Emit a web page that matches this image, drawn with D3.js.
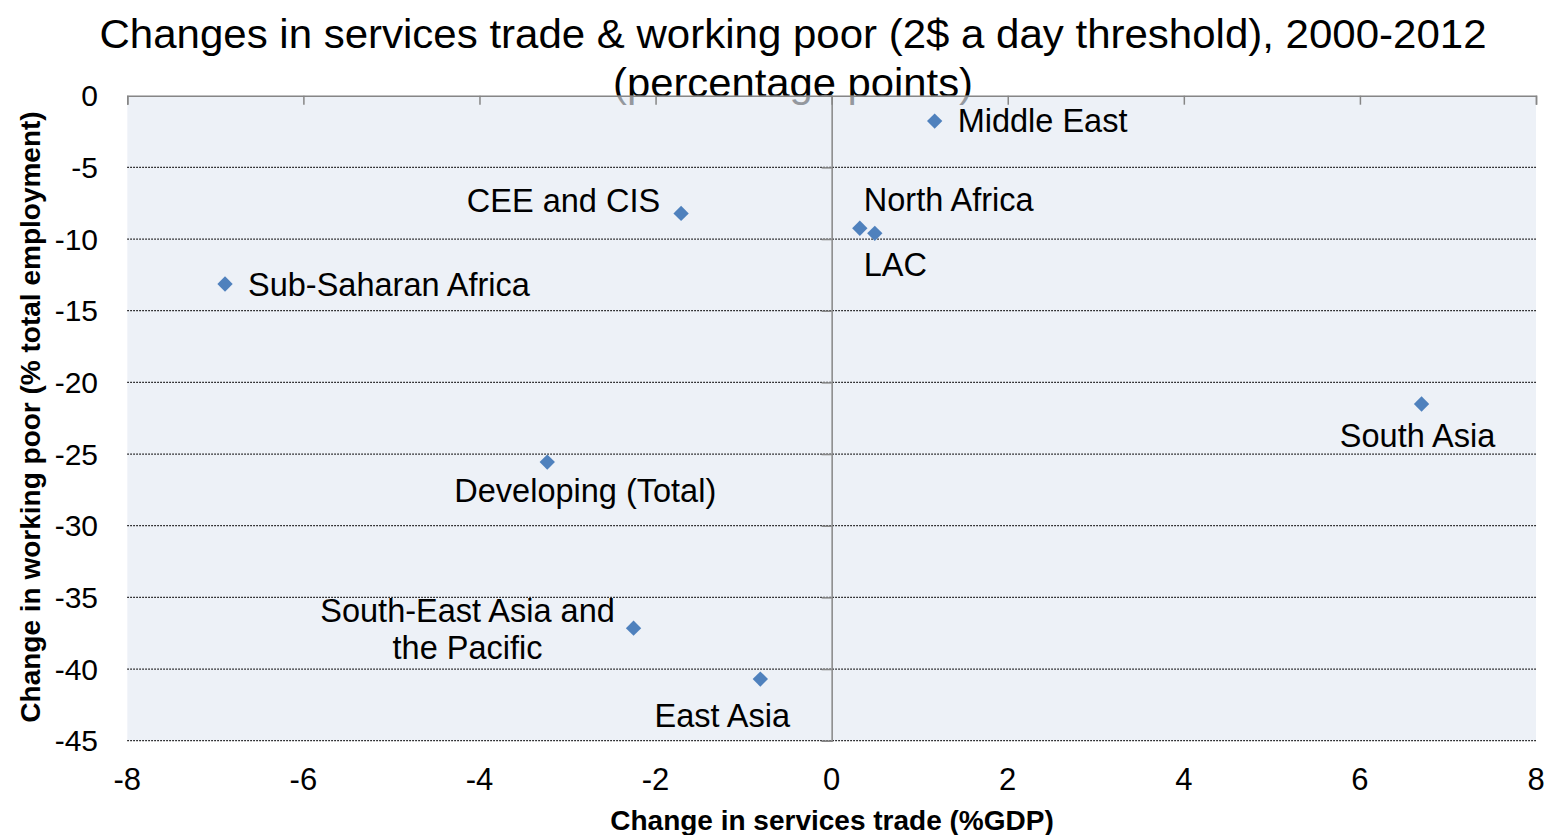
<!DOCTYPE html>
<html>
<head>
<meta charset="utf-8">
<script src="https://cdn.jsdelivr.net/npm/d3@7"></script>
<style>
  html, body { margin: 0; padding: 0; background: #fff; }
  svg { display: block; font-family: "Liberation Sans", Arial, sans-serif; }
</style>
</head>
<body>
<svg id="chart" width="1547" height="835"></svg>
<script>
// ---- data ----
const regions = ["Middle East", "CEE and CIS", "North Africa", "LAC", "Sub-Saharan Africa",
                 "South Asia", "Developing (Total)", "South-East Asia and the Pacific", "East Asia"];
const servicesTradeChange = [1.17, -1.71, 0.32, 0.49, -6.89, 6.70, -3.23, -2.25, -0.81];
const workingPoorChange   = [-1.77, -8.21, -9.25, -9.60, -13.14, -21.51, -25.56, -37.15, -40.70];
const xTicks = [-8, -6, -4, -2, 0, 2, 4, 6, 8];
const yTicks = [0, -5, -10, -15, -20, -25, -30, -35, -40, -45];
const titleLines = ["Changes in services trade & working poor (2$ a day threshold), 2000-2012", "(percentage points)"];
const xTitle = "Change in services trade (%GDP)";
const yTitle = "Change in working poor (% total employment)";

// ---- label placement (layout only) ----
const labelPlacement = {
  "Middle East":        {dx: 23,  dy: 0,  anchor: "start"},
  "CEE and CIS":        {dx: -21, dy: -13, anchor: "end"},
  "North Africa":       {dx: 4,   dy: -29, anchor: "start"},
  "LAC":                {dx: -11, dy: 31, anchor: "start"},
  "Sub-Saharan Africa": {dx: 23,  dy: 1,  anchor: "start"},
  "South Asia":         {dx: -4,  dy: 32, anchor: "middle"},
  "Developing (Total)": {dx: 38,  dy: 29, anchor: "middle"},
  "South-East Asia and the Pacific": {dx: -166, dy: 2, anchor: "middle", lines: ["South-East Asia and", "the Pacific"]},
  "East Asia":          {dx: -38, dy: 37, anchor: "middle"}
};

const svg = d3.select("#chart");
const plot = {left: 127.3, right: 1536, top: 95.7, bottom: 740.7};

const x = d3.scaleLinear().domain([-8, 8]).range([plot.left, plot.right]);
const y = d3.scaleLinear().domain([-45, 0]).range([plot.bottom, plot.top]);

// title (drawn first, second line partly covered by plot area)
const titleWidths = [1387, 360];
svg.append("g").selectAll("text")
  .data(titleLines).join("text")
  .attr("x", 793).attr("y", (d, i) => i === 0 ? 48 : 97)
  .attr("text-anchor", "middle").attr("font-size", 40).attr("fill", "#000")
  .attr("textLength", (d, i) => titleWidths[i]).attr("lengthAdjust", "spacingAndGlyphs")
  .text(d => d);

// plot background (semi-transparent so title shows through)
svg.append("rect")
  .attr("x", plot.left).attr("y", plot.top)
  .attr("width", plot.right - plot.left).attr("height", plot.bottom - plot.top)
  .attr("fill", "#e3e9f2").attr("fill-opacity", 0.65);

// horizontal dotted gridlines
svg.append("g").selectAll("line")
  .data(yTicks.filter(d => d !== 0))
  .join("line")
  .attr("x1", plot.left).attr("x2", plot.right)
  .attr("y1", d => y(d)).attr("y2", d => y(d))
  .attr("stroke", "#000").attr("stroke-width", 1.2).attr("stroke-dasharray", "1.5,1.5");

// x axis at y=0 (top), ticks pointing down into plot
const xAxis = d3.axisBottom(x).tickValues(xTicks).tickSize(9).tickFormat("");
const gx = svg.append("g").attr("transform", `translate(0,${y(0)})`).call(xAxis);
gx.select(".domain").attr("stroke", "#868686").attr("stroke-width", 1.5);
gx.selectAll(".tick line").attr("stroke", "#868686").attr("stroke-width", 1.5);

// y axis at x=0, ticks pointing left
const yAxis = d3.axisLeft(y).tickValues(yTicks).tickSize(10).tickFormat("");
const gy = svg.append("g").attr("transform", `translate(${x(0)},0)`).call(yAxis);
gy.select(".domain").attr("stroke", "#868686").attr("stroke-width", 1.5);
gy.selectAll(".tick line").attr("stroke", "#868686").attr("stroke-width", 1.5);

// tick labels
svg.append("g").selectAll("text")
  .data(yTicks).join("text")
  .attr("x", 98).attr("y", d => y(d)).attr("dy", "0.35em")
  .attr("text-anchor", "end").attr("font-size", 30).text(d => d);

svg.append("g").selectAll("text")
  .data(xTicks).join("text")
  .attr("x", d => x(d)).attr("y", 790)
  .attr("text-anchor", "middle").attr("font-size", 31).text(d => d);

// axis titles
svg.append("text").attr("x", 832).attr("y", 830).attr("text-anchor", "middle")
  .attr("font-size", 28).attr("font-weight", "bold").text(xTitle);
svg.append("text").attr("transform", "translate(40,417) rotate(-90)").attr("text-anchor", "middle")
  .attr("font-size", 28).attr("font-weight", "bold").text(yTitle);

// points
const pts = regions.map((r, i) => ({name: r, xv: servicesTradeChange[i], yv: workingPoorChange[i]}));
svg.append("g").selectAll("path")
  .data(pts).join("path")
  .attr("transform", d => `translate(${x(d.xv)},${y(d.yv)})`)
  .attr("d", d3.symbol(d3.symbolDiamond2, 150)())
  .attr("fill", "#4f81bd");

// labels
const lg = svg.append("g").attr("font-size", 32.5).attr("fill", "#000");
pts.forEach(d => {
  const p = labelPlacement[d.name];
  const t = lg.append("text")
    .attr("text-anchor", p.anchor)
    .attr("x", x(d.xv) + p.dx).attr("y", y(d.yv) + p.dy);
  const lines = p.lines || [d.name];
  lines.forEach((ln, k) => {
    t.append("tspan").attr("x", x(d.xv) + p.dx)
      .attr("dy", k === 0 ? (0.35 - (lines.length - 1) * 0.6) + "em" : "1.15em")
      .text(ln);
  });
});
</script>
</body>
</html>
